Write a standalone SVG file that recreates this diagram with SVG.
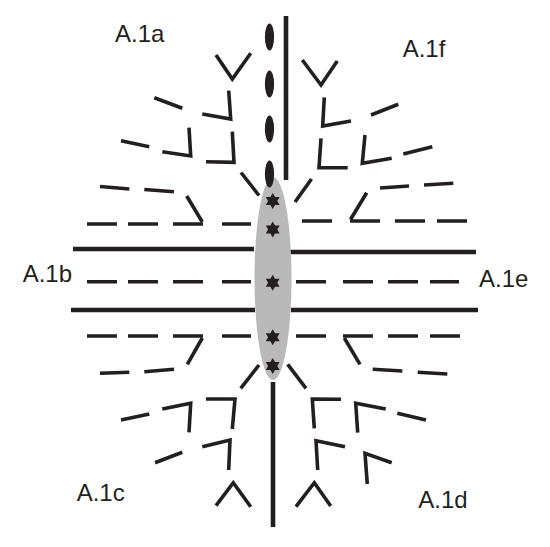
<svg xmlns="http://www.w3.org/2000/svg" width="550" height="547" viewBox="0 0 550 547">
<style>
.s{stroke:#231f20;stroke-width:3.6;fill:none;stroke-linecap:butt;stroke-linejoin:miter}
.m{stroke:#231f20;stroke-width:4.6;fill:none}
.t{font-family:"Liberation Sans",Arial,sans-serif;font-size:24px;fill:#231f20}
</style>
<defs>
<polygon id="star" fill="#231f20" points="0,-8 2.31,-4 6.93,-4 4.62,0 6.93,4 2.31,4 0,8 -2.31,4 -6.93,4 -4.62,0 -6.93,-4 -2.31,-4"/>
</defs>
<rect width="550" height="547" fill="#fff"/>
<g id="main-lines">
<line class="m" x1="286" y1="16" x2="286" y2="180"/>
<line class="m" x1="273" y1="382" x2="273" y2="527"/>
<line class="m" x1="73" y1="249" x2="254" y2="249"/>
<line class="m" x1="71" y1="310" x2="255" y2="310"/>
<line class="m" x1="289" y1="252" x2="476" y2="252"/>
<line class="m" x1="291" y1="310" x2="478" y2="310"/>
</g>
<g id="center">
<ellipse cx="273" cy="278.5" rx="18.5" ry="101.5" fill="#b9b9b9"/>
<ellipse cx="269.5" cy="37" rx="4.6" ry="13.5" fill="#231f20"/>
<ellipse cx="269.5" cy="84" rx="4.6" ry="13.5" fill="#231f20"/>
<ellipse cx="269.5" cy="129" rx="4.6" ry="13.5" fill="#231f20"/>
<ellipse cx="269.5" cy="174" rx="4.6" ry="13.5" fill="#231f20"/>
<use href="#star" x="272.7" y="201"/>
<use href="#star" x="272.7" y="229.5"/>
<use href="#star" x="272.7" y="282.7"/>
<use href="#star" x="272.7" y="337.3"/>
<use href="#star" x="272.7" y="366"/>
</g>
<g id="dashes-left">
<path class="s" d="M87,224H117M128,224H158M173,224H203M222,224H251"/>
<path class="s" d="M87,281.7H117M128,281.7H158M173,281.7H203M222,281.7H251"/>
<path class="s" d="M87,336H117M128,336H158M173,336H203M222,336H251"/>
</g>
<g id="dashes-right">
<path class="s" d="M302,221H332M350,221H380M395,221H425M437,221H467"/>
<path class="s" d="M296,281.7H326M343,281.7H373M388,281.7H418M430,281.7H459"/>
<path class="s" d="M296,336H326M343,336H373M388,336H418M430,336H460"/>
</g>
<g id="A1a">
<text class="t" x="115" y="42">A.1a</text>
<polyline class="s" points="216,55 232.3,79 250.7,53.3"/>
<line class="s" x1="154.3" y1="97.7" x2="182.3" y2="108.3"/>
<polyline class="s" points="228.7,90.7 230.7,119 202.3,114"/>
<line class="s" x1="121" y1="140.7" x2="149.3" y2="146.7"/>
<polyline class="s" points="189,127.7 190.7,156 162.3,151.7"/>
<polyline class="s" points="232.3,131.7 234,162.3 206,161.7"/>
<line class="s" x1="241" y1="172.5" x2="259" y2="195.5"/>
<line class="s" x1="100" y1="186.5" x2="129.3" y2="189"/>
<line class="s" x1="144.3" y1="189.5" x2="174" y2="191.7"/>
<line class="s" x1="186.7" y1="196" x2="202.3" y2="222"/>
</g>
<g id="A1b">
<text class="t" x="22.7" y="281.7">A.1b</text>
</g>
<g id="A1c">
<text class="t" x="76.7" y="501">A.1c</text>
<line class="s" x1="202.3" y1="338" x2="187.3" y2="364.3"/>
<line class="s" x1="100" y1="373.3" x2="129.3" y2="372.3"/>
<line class="s" x1="144.3" y1="371.7" x2="174" y2="369.3"/>
<line class="s" x1="240.7" y1="388.3" x2="259" y2="365"/>
<line class="s" x1="121" y1="420" x2="149.3" y2="414"/>
<polyline class="s" points="162.3,409 190.7,403.3 189,432.3"/>
<polyline class="s" points="206,399 235,399 232.3,429"/>
<line class="s" x1="155" y1="462.7" x2="182.3" y2="452.3"/>
<polyline class="s" points="202.3,446.7 230,440 228.7,470"/>
<polyline class="s" points="216,505.7 233.3,482.7 250.7,506.7"/>
</g>
<g id="A1d">
<text class="t" x="418.3" y="507.7">A.1d</text>
<line class="s" x1="344.3" y1="338" x2="360" y2="364.3"/>
<line class="s" x1="372.7" y1="369.3" x2="402.3" y2="371"/>
<line class="s" x1="417.7" y1="372.3" x2="447.3" y2="374"/>
<line class="s" x1="287.7" y1="364.3" x2="306" y2="388.3"/>
<polyline class="s" points="314.3,428.3 312.3,399 341,399.3"/>
<polyline class="s" points="357.7,432.7 355.7,403.3 385.7,409"/>
<line class="s" x1="397.3" y1="413.3" x2="426" y2="420"/>
<polyline class="s" points="317.7,470 316,440.7 345,446.7"/>
<polyline class="s" points="367.3,484 365,453.3 391.7,462.7"/>
<polyline class="s" points="296,506.7 314.3,482.7 330.7,506"/>
</g>
<g id="A1e">
<text class="t" x="479" y="287.3">A.1e</text>
</g>
<g id="A1f">
<text class="t" x="402.7" y="56.7">A.1f</text>
<polyline class="s" points="302.3,60 321,85 337.3,61"/>
<polyline class="s" points="324.3,97.3 322.7,126 351,121"/>
<line class="s" x1="371" y1="115" x2="398.3" y2="104.3"/>
<polyline class="s" points="321,138.3 319,167.7 347.7,167.7"/>
<polyline class="s" points="365,135 362.3,163.3 391.7,158.3"/>
<line class="s" x1="403.3" y1="154" x2="432.3" y2="146.7"/>
<line class="s" x1="311.5" y1="179" x2="295" y2="202"/>
<line class="s" x1="380" y1="188" x2="409" y2="186"/>
<line class="s" x1="424" y1="185" x2="453.3" y2="183.3"/>
<line class="s" x1="366.7" y1="192.7" x2="350.5" y2="219.5"/>
</g>
</svg>
